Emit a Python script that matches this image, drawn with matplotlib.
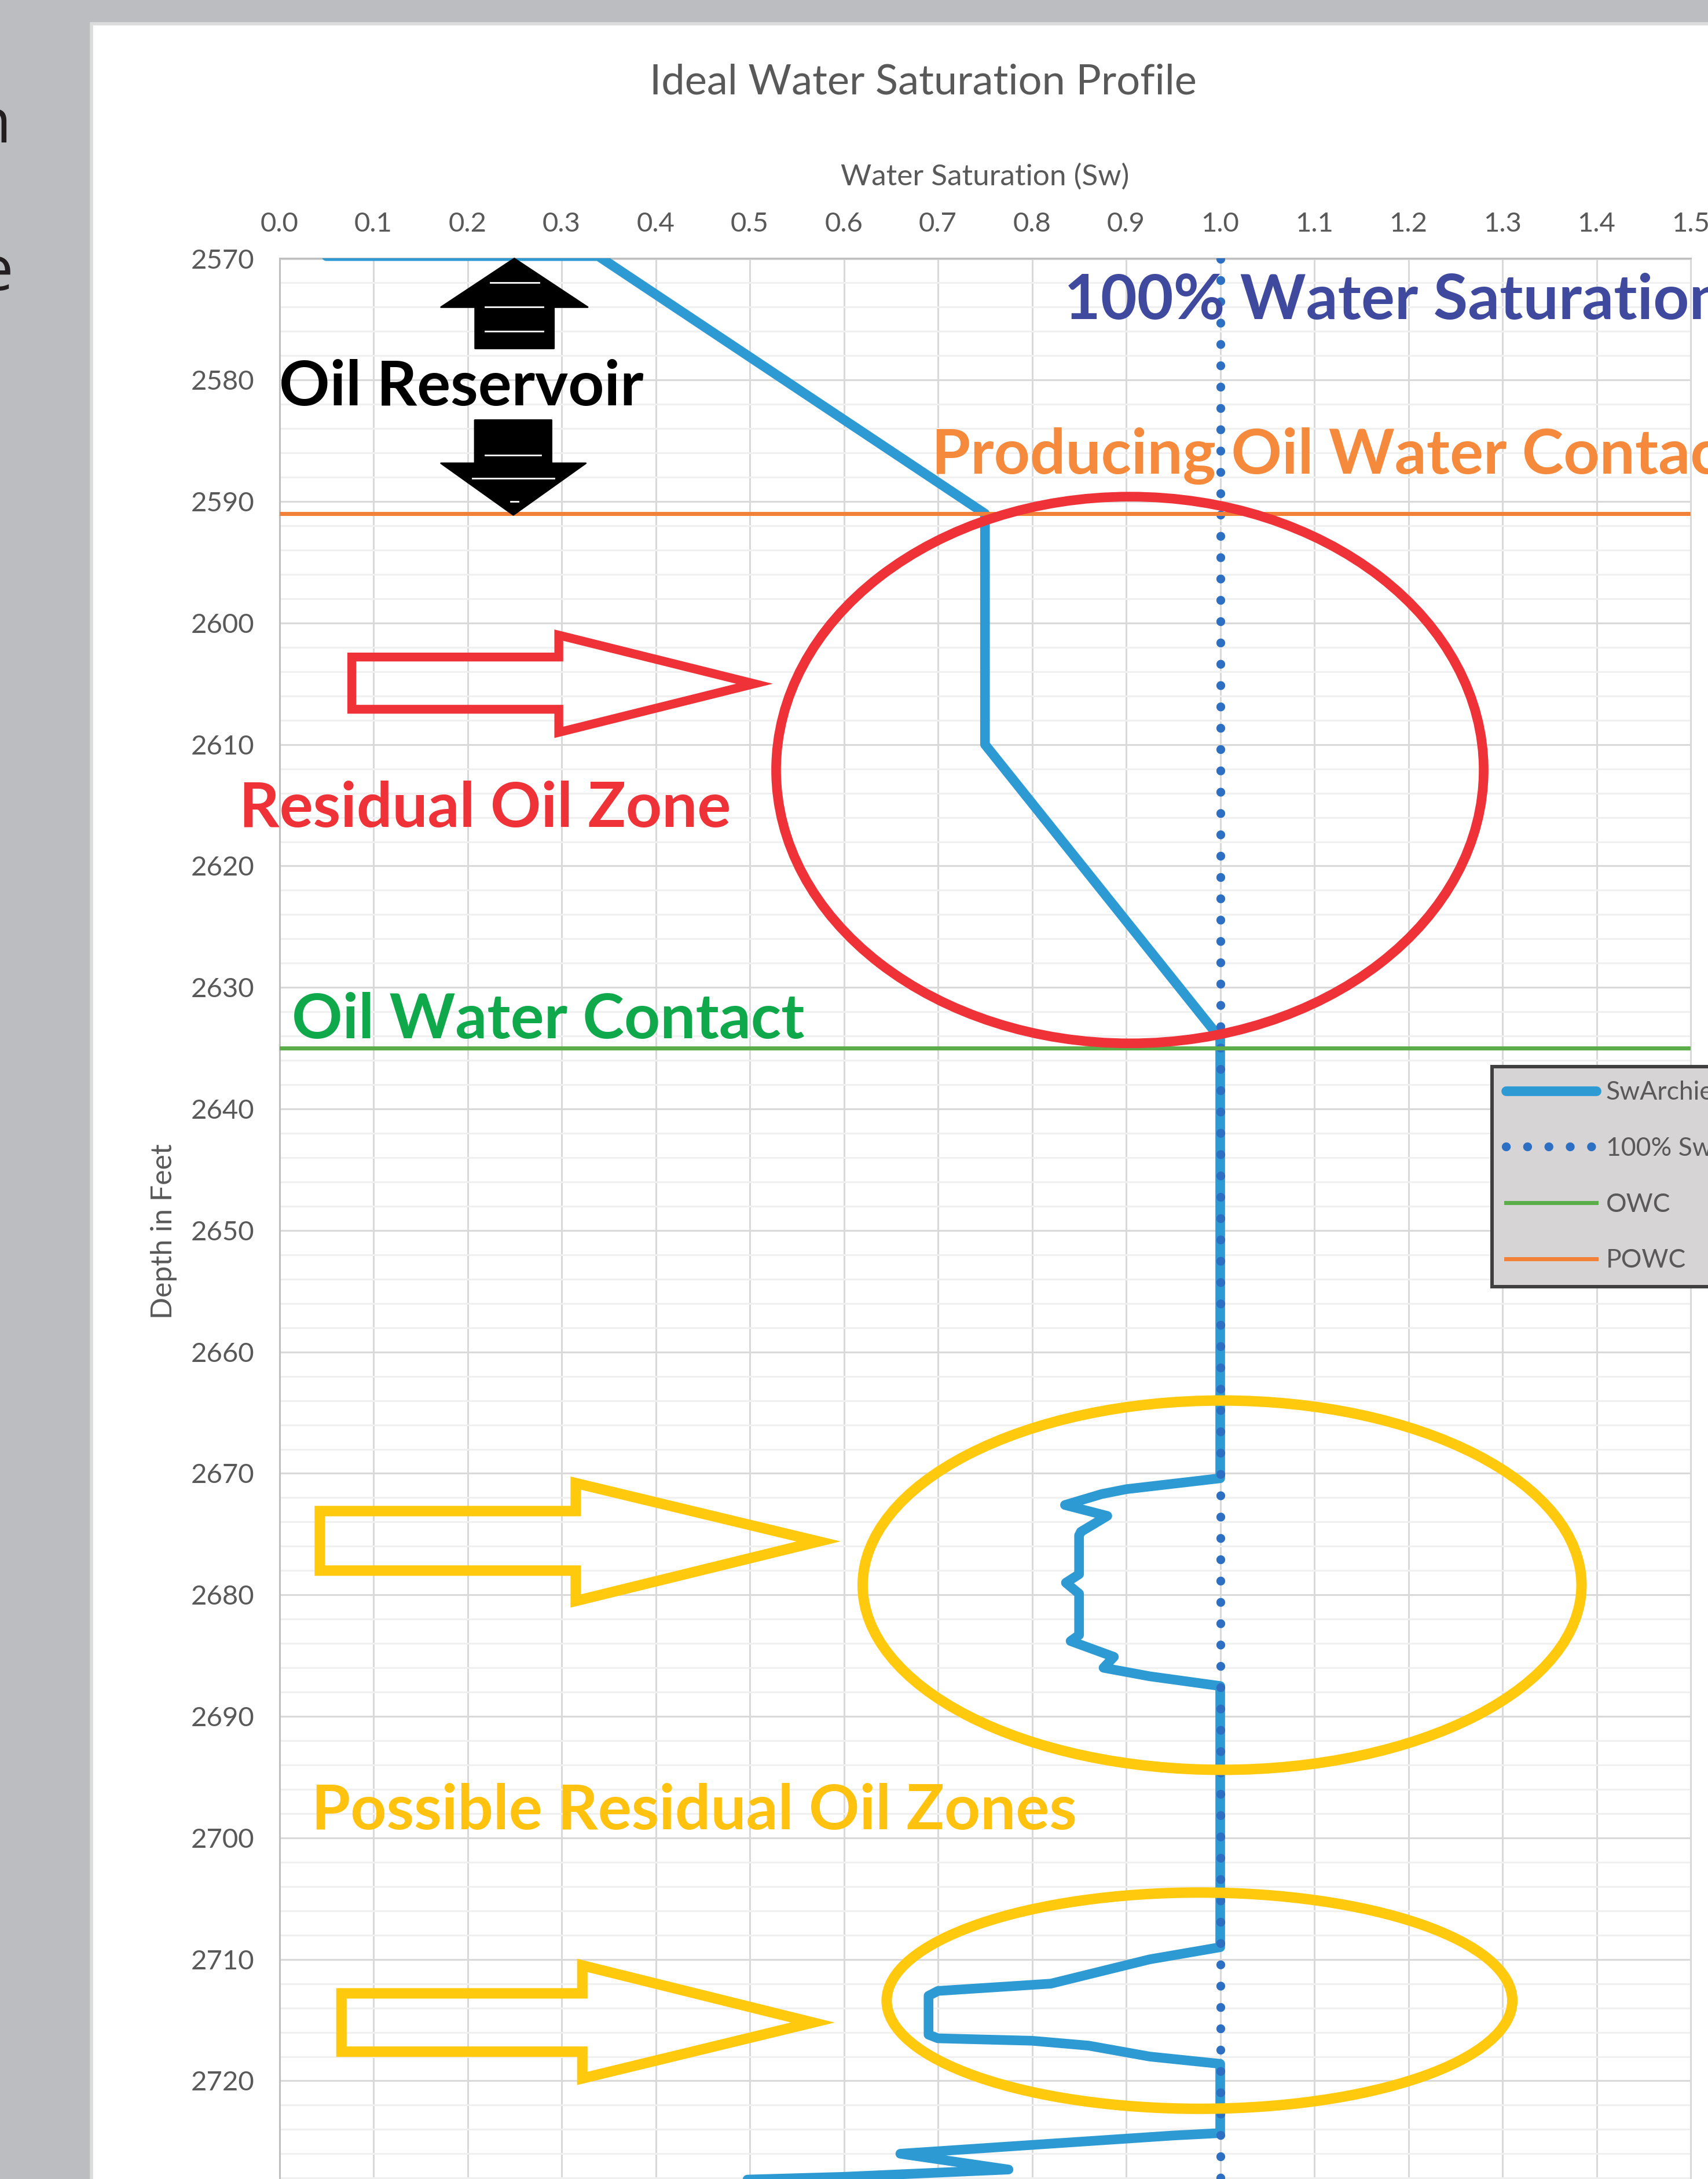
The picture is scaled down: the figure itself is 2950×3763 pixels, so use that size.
import numpy as np
import matplotlib.pyplot as plt
from matplotlib.patches import Rectangle, Ellipse, Polygon

plt.rcParams['font.family'] = ['Lato', 'DejaVu Sans']

W, H, DPI = 2950, 3763, 100

# --- data (Sw fraction, depth in feet) ---
sw_archie = [0.05, 0.339, 0.75, 0.75, 1.0, 1.0, 0.90, 0.874, 0.835, 0.880, 0.852,
             0.850, 0.850, 0.836, 0.850, 0.850, 0.841, 0.887, 0.876, 0.925, 1.0,
             1.0, 0.925, 0.82, 0.70, 0.69, 0.69, 0.70, 0.80, 0.86, 0.925, 1.0,
             1.0, 0.95, 0.66, 0.775, 0.60, 0.42, 0.25]
depth_archie = [2569.8, 2569.8, 2591.0, 2610.0, 2634.2, 2670.4, 2671.3, 2671.7,
                2672.6, 2673.5, 2674.8, 2675.1, 2678.3, 2679.0, 2679.9, 2683.3,
                2683.8, 2685.1, 2686.0, 2686.7, 2687.5, 2709.0, 2710.0, 2712.0,
                2712.6, 2713.0, 2716.2, 2716.5, 2716.7, 2717.1, 2718.0, 2718.6,
                2724.3, 2724.5, 2726.0, 2727.3, 2727.9, 2728.3, 2728.8]
sw_full = [1.0, 1.0]
depth_full = [2570.0, 2740.0]
owc_sw = [0.0, 1.5]
owc_depth = [2635.0, 2635.0]
powc_sw = [0.0, 1.5]
powc_depth = [2591.0, 2591.0]

x_ticks = np.round(np.arange(0, 1.51, 0.1), 1)
y_ticks = np.arange(2570, 2730, 10)

# --- annotation shapes (data coords) ---
# ellipses: centre x, centre y, width, height, colour, lw
rings = [(0.904, 2612.1, 0.752, 45.0, '#EE3238', 12),
         (1.002, 2679.2, 0.764, 30.4, '#FFC90E', 13),
         (0.978, 2713.4, 0.665, 17.8, '#FFC90E', 13)]
# hollow arrows: x_tail, x_neck, x_tip, shaft top, shaft bottom, head top, head bottom, tip y
hollow = [(0.077, 0.297, 0.505, 2602.8, 2607.1, 2601.0, 2609.0, 2605.0, '#EE3238', 11),
          (0.043, 0.315, 0.573, 2673.1, 2678.0, 2670.8, 2680.5, 2675.6, '#FFC90E', 13),
          (0.066, 0.322, 0.567, 2712.8, 2717.6, 2710.5, 2719.8, 2715.2, '#FFC90E', 13)]
# black arrows: tip, head base y, head half-width x, shaft x, shaft end y
up_arrow = [(0.2497, 2570.0), (0.3277, 2574.0), (0.2918, 2574.0), (0.2918, 2577.4),
            (0.2081, 2577.4), (0.2081, 2574.0), (0.1718, 2574.0)]
down_arrow = [(0.2487, 2591.1), (0.3257, 2586.85), (0.2893, 2586.85), (0.2893, 2583.3),
              (0.2077, 2583.3), (0.2077, 2586.85), (0.1718, 2586.85)]
stripes = [(2572.0, 0.224, 0.276), (2574.0, 0.219, 0.280), (2576.0, 0.219, 0.280),
           (2586.2, 0.219, 0.278), (2588.1, 0.205, 0.292), (2590.0, 0.246, 0.254)]

labels = [("100% Water Saturation", 0.834, 2575.0, '#3F4A9E'),
          ("Producing Oil Water Contact", 0.693, 2587.7, '#F58A3C'),
          ("Oil Reservoir", 0.0, 2582.1, 'black'),
          ("Residual Oil Zone", -0.043, 2616.8, '#EE3237'),
          ("Oil Water Contact", 0.013, 2634.2, '#0FA84B'),
          ("Possible Residual Oil Zones", 0.034, 2699.3, '#FFC20E')]

fig = plt.figure(figsize=(W / DPI, H / DPI), dpi=DPI, facecolor='#BCBDC1')
fig.patches.append(Rectangle((158 / W, -0.01), 1.0, (H - 41) / H + 0.01,
                             transform=fig.transFigure, facecolor='white',
                             edgecolor='#DCDCDC', lw=4, zorder=-1))
fig.text(20 / W, 1 - 246 / H, 'n', ha='right', va='baseline', fontsize=76,
         family='Open Sans', color='#231F20')
fig.text(22 / W, 1 - 501 / H, 'e', ha='right', va='baseline', fontsize=76,
         family='Open Sans', color='#231F20')

ax = fig.add_axes([482.5 / W, 0, 2437.5 / W, (H - 446.5) / H])
ax.set_xlim(0, 1.5)
ax.set_ylim(2728.08, 2570)

ax.set_xticks(x_ticks)
ax.set_xticklabels([f'{v:.1f}' for v in x_ticks])
ax.set_yticks(y_ticks)
ax.set_yticks(np.arange(2570, 2730, 2), minor=True)
ax.xaxis.tick_top()
ax.xaxis.set_label_position('top')
ax.tick_params(which='both', length=0, labelsize=34, labelcolor='#595959')
ax.tick_params(axis='x', pad=28)
ax.tick_params(axis='y', pad=31)
ax.grid(which='major', color='#D9D9D9', lw=2.2)
ax.grid(which='minor', axis='y', color='#F0F0F0', lw=2.2)
ax.set_axisbelow(True)
for s in ['left', 'top']:
    ax.spines[s].set_color('#BFBFBF')
    ax.spines[s].set_linewidth(2.2)
ax.spines['bottom'].set_visible(False)
ax.spines['right'].set_color('#D9D9D9')
ax.spines['right'].set_linewidth(2.2)

ax.set_xlabel('Water Saturation (Sw)', fontsize=37, color='#595959')
ax.xaxis.set_label_coords(0.5, (1 - 305 / H) / ((H - 446.5) / H))
ax.xaxis.label.set_verticalalignment('center')
ax.set_ylabel('Depth in Feet', fontsize=36, color='#595959')
ax.yaxis.set_label_coords((283 - 482.5) / 2437.5, (1 - 2127 / H) / ((H - 446.5) / H))
ax.yaxis.label.set_verticalalignment('center')
fig.text(1594 / W, 1 - 142 / H, 'Ideal Water Saturation Profile', ha='center',
         va='center', fontsize=52, color='#595959')

ax.plot(sw_archie, depth_archie, color='#2E9AD4', lw=12, solid_joinstyle='round',
        solid_capstyle='round', label='SwArchie', zorder=3)
ax.plot(sw_full, depth_full, color='#2D6FC2', lw=11, ls=(0, (0.01, 2.4)),
        dash_capstyle='round', label='100% Sw', zorder=4)
ax.plot(owc_sw, owc_depth, color='#5BAD4A', lw=5, label='OWC', zorder=4)
ax.plot(powc_sw, powc_depth, color='#F28037', lw=5, label='POWC', zorder=4)

for cx, cy, w, h, c, lw in rings:
    ax.add_patch(Ellipse((cx, cy), w, h, fill=False, ec=c, lw=lw, zorder=6, clip_on=False))

for x0, x1, x2, st, sb, ht, hb, ty, c, lw in hollow:
    pts = [(x0, st), (x1, st), (x1, ht), (x2, ty), (x1, hb), (x1, sb), (x0, sb)]
    ax.add_patch(Polygon(pts, closed=True, fill=False, ec=c, lw=lw,
                         joinstyle='miter', zorder=6, clip_on=False))

for pts in (up_arrow, down_arrow):
    ax.add_patch(Polygon(pts, closed=True, fc='black', ec='black', lw=2,
                         joinstyle='round', zorder=6, clip_on=False))
for y, xa, xb in stripes:
    ax.plot([xa, xb], [y, y], color='white', lw=2, zorder=7)

for txt, x, y, c in labels:
    ax.text(x, y, txt, color=c, fontsize=78, fontweight='bold', ha='left',
            va='baseline', zorder=8, clip_on=False)

leg = ax.legend(loc='upper left', bbox_to_anchor=(2577 / W, 1 - 1842 / H),
                bbox_transform=fig.transFigure, prop=dict(size=32),
                handlelength=3.5, handletextpad=0.38, labelspacing=1.25,
                borderpad=0.55, borderaxespad=0, frameon=True, fancybox=False,
                facecolor='#D6D4D4', edgecolor='#404040', framealpha=1)
leg.get_frame().set_linewidth(4.3)
leg.set_zorder(10)
for t in leg.get_texts():
    t.set_color('#595959')

fig.savefig('out.png', dpi=DPI, facecolor=fig.get_facecolor())
